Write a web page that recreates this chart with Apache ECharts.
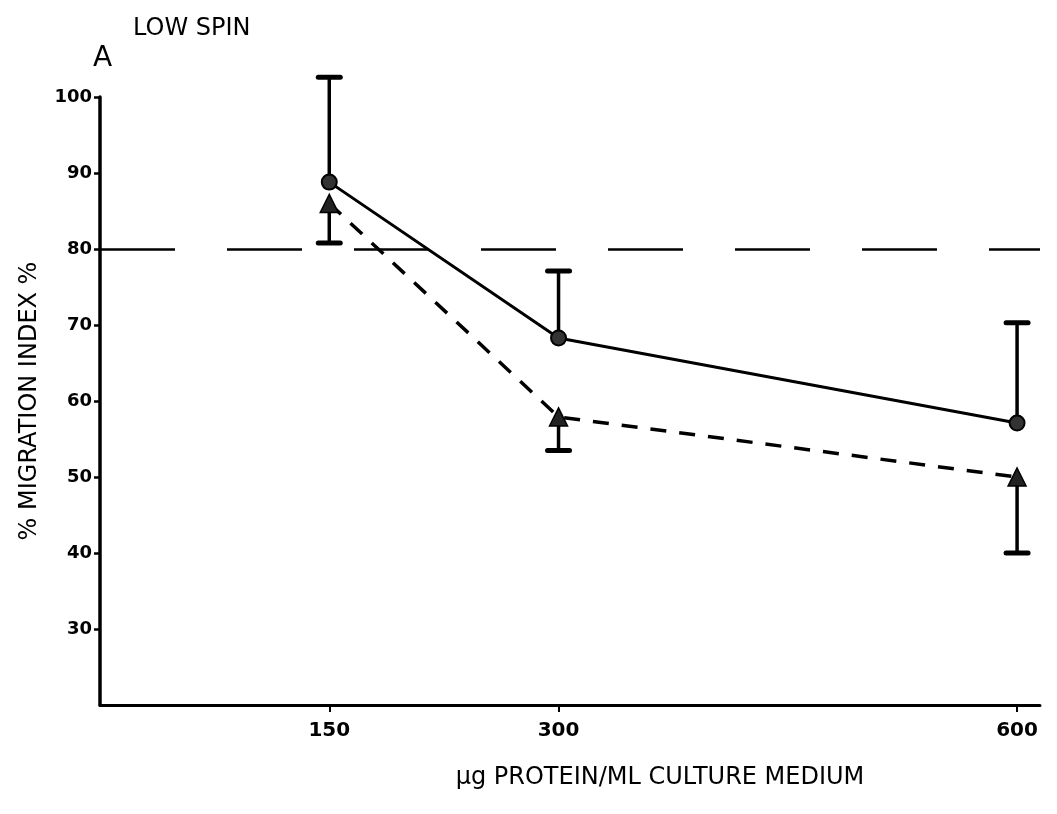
<!DOCTYPE html>
<html>
<head>
<meta charset="utf-8">
<script src="https://cdn.jsdelivr.net/npm/echarts@6/dist/echarts.min.js"></script>
<style>html,body{margin:0;padding:0;background:#fff}#c{width:1057px;height:814px}</style>
</head>
<body>
<div id="c"></div>
<script>
// ---- data ----
const doses = [150, 300, 600];
const xTickValues = [150, 300, 600];
const yTickLabels = [30, 40, 50, 60, 70, 80, 90, 100];
const circleValues = [88.8, 68.3, 57.1];      // solid line, circles
const circleUpper = [102.6, 77.1, 70.3];      // upper error bar ends
const triangleValues = [86.0, 57.9, 50.0];    // dashed line, triangles
const triangleLower = [80.8, 53.5, 40.0];     // lower error bar ends
const referenceLevel = 80;
const chartTitle = 'LOW SPIN';
const panelLabel = 'A';
const yAxisTitle = '% MIGRATION INDEX %';
const xAxisTitle = 'µg PROTEIN/ML CULTURE MEDIUM';

const FONT = '"DejaVu Sans", sans-serif';
const circleData = doses.map((d, i) => [d, circleValues[i]]);
const triangleData = doses.map((d, i) => [d, triangleValues[i]]);
const upperErr = doses.map((d, i) => [d, circleValues[i], circleUpper[i]]);
const lowerErr = doses.map((d, i) => [d, triangleLower[i], triangleValues[i]]);

function makeErrRenderer(capAtTop) {
  return function (params, api) {
    const x = api.value(0);
    const lo = api.coord([x, api.value(1)]);
    const hi = api.coord([x, api.value(2)]);
    const half = 11;
    const cap = capAtTop ? hi : lo;
    return {
      type: 'group',
      children: [
        { type: 'line', shape: { x1: lo[0], y1: lo[1], x2: hi[0], y2: hi[1] }, style: { stroke: '#000', lineWidth: 3.5 } },
        { type: 'line', shape: { x1: cap[0] - half, y1: cap[1], x2: cap[0] + half, y2: cap[1] }, style: { stroke: '#000', lineWidth: 5, lineCap: 'round' } }
      ]
    };
  };
}

const chart = echarts.init(document.getElementById('c'), null, { renderer: 'canvas' });
chart.setOption({
  backgroundColor: '#fff',
  animation: false,
  title: [
    { text: chartTitle, left: 128, top: 12, textStyle: { fontFamily: FONT, fontSize: 24, fontWeight: 'normal', color: '#000' } },
    { text: panelLabel, left: 88, top: 40, textStyle: { fontFamily: FONT, fontSize: 28, fontWeight: 'normal', color: '#000' } }
  ],
  graphic: [
    { type: 'text', x: 660, y: 778, style: { text: xAxisTitle, font: '24px "DejaVu Sans", sans-serif', fill: '#000', align: 'center', verticalAlign: 'middle' } }
  ],
  grid: { left: 100, right: 17, top: 97, bottom: 109, containLabel: false },
  xAxis: {
    type: 'value', min: 0, max: 615,
    splitLine: { show: false },
    axisLine: { lineStyle: { color: '#000', width: 3 } },
    axisTick: { show: true, customValues: xTickValues, length: 7, lineStyle: { color: '#000', width: 2 } },
    axisLabel: { customValues: xTickValues, color: '#000', fontFamily: FONT, fontSize: 20, fontWeight: 'bold', margin: 16 }
  },
  yAxis: {
    type: 'value', min: 20, max: 100, interval: 10,
    name: yAxisTitle, nameLocation: 'middle', nameGap: 58, nameRotate: 90,
    nameTextStyle: { color: '#000', fontFamily: FONT, fontSize: 24, fontWeight: 'normal' },
    splitLine: { show: false },
    axisLine: { onZero: false, lineStyle: { color: '#000', width: 3.5 } },
    axisTick: { show: true, customValues: yTickLabels, length: 6, lineStyle: { color: '#000', width: 2.5 } },
    axisLabel: { customValues: yTickLabels, color: '#000', fontFamily: FONT, fontSize: 18, fontWeight: 'bold', margin: 8 }
  },
  series: [
    {
      type: 'line', data: circleData, symbol: 'circle', symbolSize: 15,
      lineStyle: { color: '#000', width: 3 },
      itemStyle: { color: '#333', borderColor: '#000', borderWidth: 2 },
      z: 5,
      markLine: {
        silent: true, symbol: 'none', label: { show: false },
        lineStyle: { color: '#000', width: 2.5, type: [75, 52] },
        data: [{ yAxis: referenceLevel }]
      }
    },
    {
      type: 'line', data: triangleData, symbol: 'triangle', symbolSize: 18,
      lineStyle: { color: '#000', width: 3.5, type: [16, 13] },
      itemStyle: { color: '#222', borderColor: '#000', borderWidth: 1.5 },
      z: 5
    },
    { type: 'custom', renderItem: makeErrRenderer(true), data: upperErr, z: 3, silent: true },
    { type: 'custom', renderItem: makeErrRenderer(false), data: lowerErr, z: 3, silent: true }
  ]
});
</script>
</body>
</html>
